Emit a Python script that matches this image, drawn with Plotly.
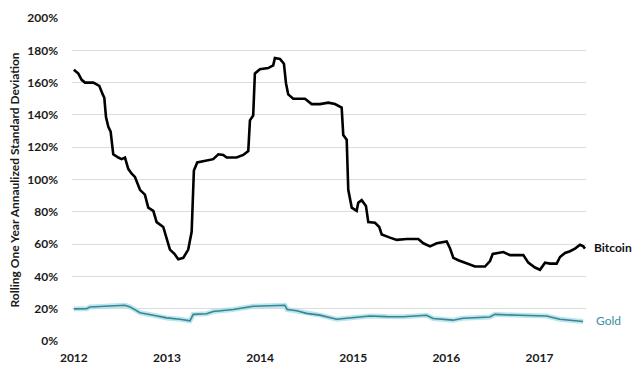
import plotly.graph_objects as go

# Decimal-year positions and values (%)
btc_t = [2012.00, 2012.048, 2012.084, 2012.120, 2012.209, 2012.273, 2012.310, 2012.327, 2012.345,
         2012.370, 2012.395, 2012.423, 2012.477, 2012.513, 2012.549, 2012.584, 2012.621, 2012.656,
         2012.710, 2012.763, 2012.799, 2012.853, 2012.889, 2012.960, 2012.996, 2013.032, 2013.085,
         2013.121, 2013.175, 2013.228, 2013.265, 2013.289, 2013.325, 2013.426, 2013.497, 2013.551,
         2013.604, 2013.641, 2013.748, 2013.819, 2013.873, 2013.891, 2013.926, 2013.944, 2013.998,
         2014.087, 2014.141, 2014.159, 2014.213, 2014.256, 2014.278, 2014.302, 2014.356, 2014.482,
         2014.554, 2014.643, 2014.732, 2014.804, 2014.876, 2014.893, 2014.930, 2014.947, 2014.984,
         2015.037, 2015.054, 2015.091, 2015.137, 2015.162, 2015.234, 2015.280, 2015.306, 2015.395,
         2015.467, 2015.574, 2015.699, 2015.753, 2015.825, 2015.897, 2016.004, 2016.039, 2016.075,
         2016.129, 2016.219, 2016.308, 2016.415, 2016.469, 2016.498, 2016.576, 2016.612, 2016.684,
         2016.827, 2016.880, 2016.952, 2017.006, 2017.060, 2017.113, 2017.185, 2017.221, 2017.275,
         2017.328, 2017.382, 2017.436, 2017.471, 2017.489]
btc_v = [168, 165.6, 161.7, 160, 160, 158, 152.7, 150.6, 138.6,
         132.6, 129.6, 115.6, 113.6, 112.6, 113.6, 106.6, 103.6, 101.6,
         93.6, 90.6, 82.6, 80.6, 73.6, 70.6, 63.5, 56.6, 53.6,
         50.6, 51.5, 56.6, 67.6, 105.6, 110.6, 111.6, 112.6, 115.6,
         115.2, 113.6, 113.6, 115.2, 117.6, 136.6, 139.6, 165.6, 168.3,
         169, 170.7, 175.3, 174.7, 171.7, 159.6, 152.7, 150, 150,
         146.7, 146.7, 147.6, 146.7, 144.6, 127.6, 124.6, 93.6, 82.6,
         80.6, 85.6, 87.2, 83.6, 73.6, 73.2, 70.6, 66, 64,
         62.6, 63.2, 63.2, 60.5, 58.6, 60.5, 61.6, 57.5, 51.5,
         50, 47.9, 46.1, 46.1, 49.5, 53.9, 54.5, 55.1, 53.2,
         53.2, 48.5, 45.5, 44.1, 48.5, 47.9, 47.9, 52, 54.5,
         55.6, 57.2, 59.6, 58.6, 57.2]

gold_t = [2012.00, 2012.138, 2012.173, 2012.388, 2012.549, 2012.603, 2012.710, 2012.853, 2012.996,
          2013.139, 2013.247, 2013.282, 2013.426, 2013.497, 2013.711, 2013.926, 2014.141, 2014.266,
          2014.291, 2014.392, 2014.499, 2014.642, 2014.822, 2015.000, 2015.179, 2015.358, 2015.536,
          2015.787, 2015.858, 2016.073, 2016.180, 2016.467, 2016.521, 2016.789, 2017.076, 2017.219,
          2017.469]
gold_v = [19.9, 20, 21.1, 21.5, 22.1, 21.1, 17.5, 15.9, 14.3,
          13.5, 12.5, 16.5, 16.9, 18.3, 19.5, 21.5, 22.1, 22.1,
          19.5, 18.7, 17.1, 16.0, 13.5, 14.5, 15.5, 15.1, 15.0,
          15.9, 13.9, 12.9, 14.1, 14.9, 16.5, 15.9, 15.5, 13.5,
          12.1]

year_ticks = [2012, 2013, 2014, 2015, 2016, 2017]
year_labels = ["2012", "2013", "2014", "2015", "2016", "2017"]
pct_ticks = [0, 20, 40, 60, 80, 100, 120, 140, 160, 180, 200]
pct_labels = [f"{v}%" for v in pct_ticks]

fig = go.Figure()
fig.add_trace(go.Scatter(x=gold_t, y=gold_v, mode="lines",
                         line=dict(color="rgba(160,220,232,0.7)", width=5),
                         hoverinfo="skip", showlegend=False))
fig.add_trace(go.Scatter(x=gold_t, y=gold_v, mode="lines", name="Gold",
                         line=dict(color="#3a8592", width=1.6), showlegend=False))
fig.add_trace(go.Scatter(x=btc_t, y=btc_v, mode="lines", name="Bitcoin",
                         line=dict(color="#000000", width=2.6), showlegend=False))

tickfont = dict(family="Lato", size=12, weight="bold", color="#1a1a1a")

fig.update_layout(
    width=640, height=375,
    margin=dict(l=72, r=54, t=10, b=33),
    paper_bgcolor="white", plot_bgcolor="white",
    xaxis=dict(range=[2011.98, 2017.50], tickvals=year_ticks, ticktext=year_labels,
               showgrid=False, zeroline=False, showline=False, ticks="",
               ticklabelstandoff=8, tickfont=tickfont),
    yaxis=dict(range=[0, 200], tickvals=pct_ticks, ticktext=pct_labels,
               showgrid=True, gridcolor="#dcdcdc", gridwidth=1, zeroline=False,
               showline=False, ticks="", ticklabelstandoff=13, tickfont=tickfont),
    annotations=[
        dict(text="Rolling One Year Annaulized Standard Deviation", textangle=-90,
             xref="paper", yref="paper", x=-0.111, y=0.5, xanchor="center", yanchor="middle",
             showarrow=False,
             font=dict(family="Lato", size=12, weight="bold", color="#1a1a1a")),
        dict(text="Bitcoin", xref="paper", yref="y", x=1.012, y=58, xanchor="left",
             showarrow=False, font=dict(family="Lato", size=12, weight="bold", color="#111111")),
        dict(text="Gold", xref="paper", yref="y", x=1.016, y=12.5, xanchor="left",
             showarrow=False, font=dict(family="Lato", size=12, color="#3a8fa0")),
    ],
)

fig.write_html("out.html")
